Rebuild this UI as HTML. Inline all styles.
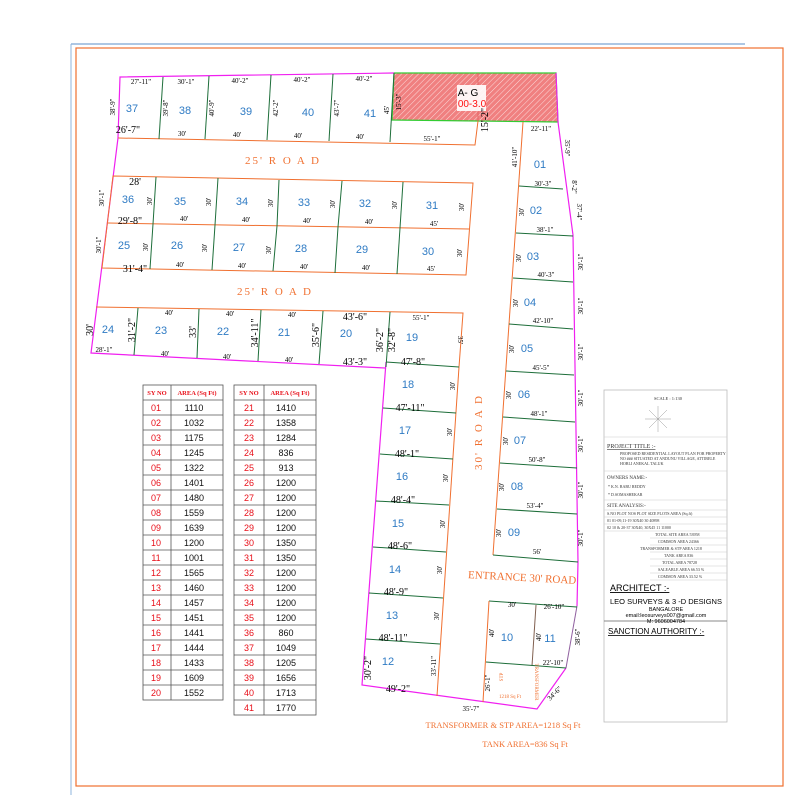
<!DOCTYPE html>
<html><head><meta charset="utf-8"><style>
html,body{margin:0;padding:0;background:#fff;}
svg{display:block;}
.pn{font-family:"Liberation Sans",sans-serif;font-size:11px;fill:#2f7bc4;text-anchor:middle;}
.d{font-family:"Liberation Serif",serif;font-size:7px;fill:#000;text-anchor:middle;}
.D{font-family:"Liberation Serif",serif;font-size:10px;fill:#000;text-anchor:middle;}
.rd{font-family:"Liberation Serif",serif;font-size:11px;fill:#f07030;text-anchor:middle;letter-spacing:2px;}
.tr{font-family:"Liberation Serif",serif;font-size:8.5px;fill:#f07030;text-anchor:middle;}
.tn{font-family:"Liberation Sans",sans-serif;font-size:9px;fill:#e8101a;text-anchor:middle;}
.ta{font-family:"Liberation Sans",sans-serif;font-size:9px;fill:#111;text-anchor:middle;}
.th{font-family:"Liberation Serif",serif;font-size:6.5px;fill:#e8101a;text-anchor:middle;font-weight:bold;}
.tb{font-family:"Liberation Serif",serif;font-size:4px;fill:#333;}
.g{stroke:#1e6e3a;stroke-width:1;fill:none;}
.o{stroke:#f07030;stroke-width:1;fill:none;}
.m{stroke:#f020f0;stroke-width:1.2;fill:none;}
</style></head><body>
<svg width="800" height="800" viewBox="0 0 800 800" xmlns="http://www.w3.org/2000/svg">
<defs>
<pattern id="h" width="4" height="4" patternUnits="userSpaceOnUse" patternTransform="rotate(45)">
<rect width="4" height="4" fill="#f08080"/><line x1="0" y1="0" x2="0" y2="4" stroke="#fbdada" stroke-width="1"/>
</pattern>
</defs>
<line x1="71" y1="44" x2="745" y2="44" stroke="#5b8fc8" stroke-width="1"/>
<line x1="71" y1="44" x2="71" y2="795" stroke="#8fb4dc" stroke-width="1"/>
<rect x="76" y="48" width="707" height="738" fill="none" stroke="#f07030" stroke-width="1.2"/>

<polygon points="394,73 556,73 558,122 392,120" fill="url(#h)" stroke="#33cc33" stroke-width="1.2"/>
<line x1="478" y1="73" x2="478" y2="121" stroke="#e06060" stroke-width="0.8"/>
<rect x="457" y="85" width="29" height="26" fill="#fff" opacity="0.9"/>
<text x="468" y="96" font-family="Liberation Sans" font-size="10" text-anchor="middle">A- G</text>
<text x="472" y="107" font-family="Liberation Sans" font-size="10" fill="#ff1010" text-anchor="middle">00-3.0</text>

<polyline class="m" points="394,73 120,77 118,138"/>
<polyline class="o" points="118,138 475,145 478,121"/>
<line class="g" x1="163" y1="77" x2="159" y2="139"/>
<line class="g" x1="209" y1="76" x2="205" y2="139"/>
<line class="g" x1="271" y1="75" x2="267" y2="140"/>
<line class="g" x1="333" y1="74" x2="329" y2="141"/>
<line class="g" x1="394" y1="73" x2="390" y2="142"/>

<polyline class="m" points="118,138 91,353 385,368 385,368"/>
<polyline class="m" points="386,362 362,685 537,709 566,668"/>
<polyline class="m" points="556,73 558,122 573,235 578,562 577,606"/>
<line x1="577" y1="606" x2="566" y2="668" stroke="#9060a0" stroke-width="1"/>

<polygon class="o" points="113,176 473,183 466,275 102,268"/>
<line class="o" x1="108" y1="223" x2="469" y2="229"/>
<polyline class="g" points="156,177 153,224 150,269"/>
<polyline class="g" points="218,178 215,225 212,270"/>
<polyline class="g" points="279,180 277,226 273,271"/>
<polyline class="g" points="342,181 338,227 335,273"/>
<polyline class="g" points="403,182 400,228 397,274"/>

<polyline class="o" points="96,307 463,313 459,367"/>
<line class="g" x1="138" y1="308" x2="134" y2="355"/>
<line class="g" x1="199" y1="309" x2="197" y2="358"/>
<line class="g" x1="261" y1="310" x2="258" y2="361"/>
<line class="g" x1="323" y1="311" x2="319" y2="364"/>
<line class="g" x1="390" y1="312" x2="386" y2="367"/>

<line class="o" x1="459" y1="367" x2="437" y2="696"/>
<line class="g" x1="386" y1="362" x2="459" y2="367"/>
<line class="g" x1="383" y1="408" x2="456" y2="413"/>
<line class="g" x1="380" y1="454" x2="453" y2="459"/>
<line class="g" x1="376" y1="501" x2="449" y2="505"/>
<line class="g" x1="373" y1="547" x2="446" y2="552"/>
<line class="g" x1="369" y1="593" x2="443" y2="598"/>
<line class="g" x1="366" y1="639" x2="440" y2="644"/>

<polyline class="o" points="523,122 493,555"/>
<line class="g" x1="493" y1="555" x2="578" y2="562"/>
<line class="g" x1="519" y1="186" x2="563" y2="189"/>
<line class="g" x1="516" y1="233" x2="573" y2="236"/>
<line class="g" x1="513" y1="278" x2="573" y2="282"/>
<line class="g" x1="509" y1="324" x2="573" y2="329"/>
<line class="g" x1="506" y1="371" x2="574" y2="375"/>
<line class="g" x1="503" y1="417" x2="575" y2="422"/>
<line class="g" x1="500" y1="463" x2="577" y2="468"/>
<line class="g" x1="497" y1="509" x2="577" y2="514"/>

<line class="g" x1="489" y1="601" x2="577" y2="607"/>
<line class="o" x1="489" y1="601" x2="483" y2="702"/>
<line x1="536" y1="605" x2="532" y2="666" stroke="#806050" stroke-width="1"/>
<line class="g" x1="486" y1="662" x2="566" y2="668"/>

<g class="pn">
<text x="132" y="112">37</text><text x="185" y="114">38</text><text x="246" y="115">39</text><text x="308" y="116">40</text><text x="370" y="117">41</text>
<text x="128" y="203">36</text><text x="180" y="205">35</text><text x="242" y="205">34</text><text x="304" y="206">33</text><text x="365" y="207">32</text><text x="432" y="209">31</text>
<text x="124" y="249">25</text><text x="177" y="249">26</text><text x="239" y="251">27</text><text x="301" y="252">28</text><text x="362" y="253">29</text><text x="428" y="255">30</text>
<text x="108" y="333">24</text><text x="161" y="334">23</text><text x="223" y="335">22</text><text x="284" y="336">21</text><text x="346" y="337">20</text><text x="412" y="341">19</text>
<text x="408" y="388">18</text><text x="405" y="434">17</text><text x="402" y="480">16</text><text x="398" y="527">15</text><text x="395" y="573">14</text><text x="392" y="619">13</text><text x="388" y="665">12</text>
<text x="540" y="168">01</text><text x="536" y="214">02</text><text x="533" y="260">03</text><text x="530" y="306">04</text><text x="527" y="352">05</text><text x="524" y="398">06</text><text x="520" y="444">07</text><text x="517" y="490">08</text><text x="514" y="536">09</text>
<text x="507" y="641">10</text><text x="550" y="642">11</text>
</g>

<g class="d">
<text x="141" y="84">27'-11"</text><text x="186" y="84">30'-1"</text><text x="240" y="83">40'-2"</text><text x="302" y="82">40'-2"</text><text x="364" y="81">40'-2"</text>
<text x="182" y="136">30'</text><text x="237" y="137">40'</text><text x="298" y="138">40'</text><text x="360" y="139">40'</text><text x="432" y="141">55'-1"</text>
<text x="541" y="131">22'-11"</text>
<text x="184" y="221">40'</text><text x="246" y="222">40'</text><text x="307" y="223">40'</text><text x="369" y="224">40'</text><text x="434" y="226">45'</text>
<text x="180" y="267">40'</text><text x="242" y="268">40'</text><text x="304" y="269">40'</text><text x="366" y="270">40'</text><text x="431" y="271">45'</text>
<text x="169" y="315">40'</text><text x="230" y="316">40'</text><text x="292" y="317">40'</text><text x="421" y="320">55'-1"</text>
<text x="104" y="352">28'-1"</text><text x="165" y="356">40'</text><text x="227" y="359">40'</text><text x="289" y="362">40'</text>
<text x="543" y="186">30'-3"</text><text x="545" y="232">38'-1"</text><text x="546" y="277">40'-3"</text><text x="543" y="323">42'-10"</text><text x="541" y="370">45'-5"</text><text x="539" y="416">48'-1"</text><text x="537" y="462">50'-8"</text><text x="535" y="508">53'-4"</text><text x="537" y="554">56'</text>
<text x="512" y="607">30'</text><text x="554" y="609">26'-10"</text><text x="553" y="665">22'-10"</text><text x="471" y="711">35'-7"</text>
</g>
<g class="D">
<text x="128" y="133">26'-7"</text><text x="135" y="185">28'</text><text x="130" y="224">29'-8"</text><text x="135" y="272">31'-4"</text>
<text x="355" y="320">43'-6"</text><text x="355" y="365">43'-3"</text><text x="413" y="365">47'-8"</text>
<text x="410" y="411">47'-11"</text><text x="407" y="457">48'-1"</text><text x="403" y="503">48'-4"</text><text x="400" y="549">48'-6"</text><text x="396" y="595">48'-9"</text><text x="393" y="641">48'-11"</text><text x="398" y="692">49'-2"</text>
</g>
<g class="d">
<text transform="translate(115,107) rotate(-90)">38'-9"</text>
<text transform="translate(168,108) rotate(-90)">39'-8"</text>
<text transform="translate(214,108) rotate(-90)">40'-9"</text>
<text transform="translate(278,108) rotate(-90)">42'-2"</text>
<text transform="translate(339,108) rotate(-90)">43'-7"</text>
<text transform="translate(389,110) rotate(-90)">45'</text>
<text transform="translate(401,102) rotate(-90)">15'-3"</text>
<text transform="translate(565,148) rotate(90)">35'-9"</text>
<text transform="translate(517,157) rotate(-90)">41'-10"</text>
<text transform="translate(572,187) rotate(90)">8'-2"</text>
<text transform="translate(577,212) rotate(90)">37'-4"</text>
<text transform="translate(104,198) rotate(-90)">30'-1"</text>
<text transform="translate(101,245) rotate(-90)">30'-1"</text>
<text transform="translate(152,201) rotate(-90)">30'</text><text transform="translate(211,202) rotate(-90)">30'</text><text transform="translate(273,203) rotate(-90)">30'</text><text transform="translate(335,204) rotate(-90)">30'</text><text transform="translate(397,205) rotate(-90)">30'</text><text transform="translate(464,207) rotate(-90)">30'</text>
<text transform="translate(148,247) rotate(-90)">30'</text><text transform="translate(207,248) rotate(-90)">30'</text><text transform="translate(271,250) rotate(-90)">30'</text><text transform="translate(462,253) rotate(-90)">30'</text>
<text transform="translate(458,340) rotate(90)">35'</text>
<text transform="translate(455,386) rotate(-90)">30'</text><text transform="translate(452,432) rotate(-90)">30'</text><text transform="translate(448,478) rotate(-90)">30'</text><text transform="translate(445,524) rotate(-90)">30'</text><text transform="translate(442,570) rotate(-90)">30'</text><text transform="translate(439,616) rotate(-90)">30'</text><text transform="translate(436,666) rotate(-90)">33'-11"</text>
<text transform="translate(524,212) rotate(-90)">30'</text><text transform="translate(521,258) rotate(-90)">30'</text><text transform="translate(518,303) rotate(-90)">30'</text><text transform="translate(514,349) rotate(-90)">30'</text><text transform="translate(511,395) rotate(-90)">30'</text><text transform="translate(508,441) rotate(-90)">30'</text><text transform="translate(504,487) rotate(-90)">30'</text><text transform="translate(501,533) rotate(-90)">30'</text>
<text transform="translate(583,262) rotate(-90)">30'-1"</text><text transform="translate(583,306) rotate(-90)">30'-1"</text><text transform="translate(583,352) rotate(-90)">30'-1"</text><text transform="translate(583,398) rotate(-90)">30'-1"</text><text transform="translate(583,444) rotate(-90)">30'-1"</text><text transform="translate(583,490) rotate(-90)">30'-1"</text><text transform="translate(583,538) rotate(-90)">30'-1"</text>
<text transform="translate(494,633) rotate(-90)">40'</text><text transform="translate(541,637) rotate(-90)">40'</text><text transform="translate(580,637) rotate(-90)">38'-6"</text>
<text transform="translate(490,683) rotate(-90)">26'-1"</text><text transform="translate(556,695) rotate(-45)">34'-6"</text>
</g>
<g class="D">
<text transform="translate(93,330) rotate(-90)">30'</text>
<text transform="translate(135,330) rotate(-90)">31'-2"</text>
<text transform="translate(196,332) rotate(-90)">33'</text>
<text transform="translate(258,333) rotate(-90)">34'-11"</text>
<text transform="translate(319,335) rotate(-90)">35'-6"</text>
<text transform="translate(383,340) rotate(-90)">36'-2"</text>
<text transform="translate(395,340) rotate(-90)">32'-8"</text>
<text transform="translate(488,120) rotate(-90)">15'-2"</text>
<text transform="translate(371,668) rotate(-90)">30'-2"</text>
</g>

<text class="rd" x="283" y="164">25' R O A D</text>
<text class="rd" x="275" y="295">25' R O A D</text>
<text class="rd" transform="translate(482,432) rotate(-90)">30' R O A D</text>
<text class="rd" style="letter-spacing:0" transform="translate(522,581) rotate(3)">ENTRANCE 30' ROAD</text>
<text class="tr" transform="translate(503,677) rotate(-90)" style="font-size:5px">STP</text>
<text class="tr" x="510" y="698" style="font-size:5px">1218 Sq Ft</text>
<text class="tr" transform="translate(535,682) rotate(90)" style="font-size:5px">TRANSFORMER</text>
<text class="tr" x="503" y="728">TRANSFORMER &amp; STP AREA=1218 Sq Ft</text>
<text class="tr" x="525" y="747">TANK AREA=836 Sq Ft</text>

<g stroke="#555" stroke-width="0.8" fill="none">
<rect x="143" y="385" width="80" height="315"/>
<line x1="171" y1="385" x2="171" y2="700"/>
<rect x="234" y="385" width="82" height="330"/>
<line x1="264" y1="385" x2="264" y2="715"/>
<path d="M143 400H223M143 415H223M143 430H223M143 445H223M143 460H223M143 475H223M143 490H223M143 505H223M143 520H223M143 535H223M143 550H223M143 565H223M143 580H223M143 595H223M143 610H223M143 625H223M143 640H223M143 655H223M143 670H223M143 685H223"/>
<path d="M234 400H316M234 415H316M234 430H316M234 445H316M234 460H316M234 475H316M234 490H316M234 505H316M234 520H316M234 535H316M234 550H316M234 565H316M234 580H316M234 595H316M234 610H316M234 625H316M234 640H316M234 655H316M234 670H316M234 685H316M234 700H316"/>
</g>
<text class="th" x="157" y="395">SY NO</text><text class="th" x="197" y="395">AREA (Sq Ft)</text>
<text class="th" x="249" y="395">SY NO</text><text class="th" x="290" y="395">AREA (Sq Ft)</text>
<g class="tn">
<text x="156" y="411">01</text><text x="156" y="426">02</text><text x="156" y="441">03</text><text x="156" y="456">04</text><text x="156" y="471">05</text><text x="156" y="486">06</text><text x="156" y="501">07</text><text x="156" y="516">08</text><text x="156" y="531">09</text><text x="156" y="546">10</text><text x="156" y="561">11</text><text x="156" y="576">12</text><text x="156" y="591">13</text><text x="156" y="606">14</text><text x="156" y="621">15</text><text x="156" y="636">16</text><text x="156" y="651">17</text><text x="156" y="666">18</text><text x="156" y="681">19</text><text x="156" y="696">20</text>
<text x="249" y="411">21</text><text x="249" y="426">22</text><text x="249" y="441">23</text><text x="249" y="456">24</text><text x="249" y="471">25</text><text x="249" y="486">26</text><text x="249" y="501">27</text><text x="249" y="516">28</text><text x="249" y="531">29</text><text x="249" y="546">30</text><text x="249" y="561">31</text><text x="249" y="576">32</text><text x="249" y="591">33</text><text x="249" y="606">34</text><text x="249" y="621">35</text><text x="249" y="636">36</text><text x="249" y="651">37</text><text x="249" y="666">38</text><text x="249" y="681">39</text><text x="249" y="696">40</text><text x="249" y="711">41</text>
</g>
<g class="ta">
<text x="194" y="411">1110</text><text x="194" y="426">1032</text><text x="194" y="441">1175</text><text x="194" y="456">1245</text><text x="194" y="471">1322</text><text x="194" y="486">1401</text><text x="194" y="501">1480</text><text x="194" y="516">1559</text><text x="194" y="531">1639</text><text x="194" y="546">1200</text><text x="194" y="561">1001</text><text x="194" y="576">1565</text><text x="194" y="591">1460</text><text x="194" y="606">1457</text><text x="194" y="621">1451</text><text x="194" y="636">1441</text><text x="194" y="651">1444</text><text x="194" y="666">1433</text><text x="194" y="681">1609</text><text x="194" y="696">1552</text>
<text x="286" y="411">1410</text><text x="286" y="426">1358</text><text x="286" y="441">1284</text><text x="286" y="456">836</text><text x="286" y="471">913</text><text x="286" y="486">1200</text><text x="286" y="501">1200</text><text x="286" y="516">1200</text><text x="286" y="531">1200</text><text x="286" y="546">1350</text><text x="286" y="561">1350</text><text x="286" y="576">1200</text><text x="286" y="591">1200</text><text x="286" y="606">1200</text><text x="286" y="621">1200</text><text x="286" y="636">860</text><text x="286" y="651">1049</text><text x="286" y="666">1205</text><text x="286" y="681">1656</text><text x="286" y="696">1713</text><text x="286" y="711">1770</text>
</g>

<rect x="604" y="390" width="123" height="332" fill="#fff" stroke="#bbb" stroke-width="0.8"/>
<g stroke="#ccc" stroke-width="0.6">
<line x1="604" y1="437" x2="727" y2="437"/><line x1="604" y1="471" x2="727" y2="471"/><line x1="604" y1="500" x2="727" y2="500"/>
<line x1="604" y1="510" x2="727" y2="510"/><line x1="604" y1="517" x2="727" y2="517"/><line x1="604" y1="524" x2="727" y2="524"/>
<line x1="604" y1="531" x2="727" y2="531"/><line x1="650" y1="538" x2="727" y2="538"/><line x1="650" y1="545" x2="727" y2="545"/><line x1="650" y1="552" x2="727" y2="552"/><line x1="650" y1="559" x2="727" y2="559"/><line x1="650" y1="566" x2="727" y2="566"/><line x1="650" y1="573" x2="727" y2="573"/><line x1="650" y1="580" x2="727" y2="580"/>
</g>
<line x1="604" y1="621" x2="727" y2="621" stroke="#888" stroke-width="1"/>
<text class="tb" x="654" y="400" style="font-size:4.5px">SCALE : 1:130</text>
<g stroke="#999" stroke-width="0.5"><line x1="658" y1="406" x2="658" y2="432"/><line x1="645" y1="419" x2="671" y2="419"/><line x1="649" y1="410" x2="667" y2="428"/><line x1="667" y1="410" x2="649" y2="428"/></g>
<text class="tb" x="607" y="448" style="font-size:6px;text-decoration:underline">PROJECT TITLE :-</text>
<text class="tb" x="620" y="455">PROPOSED RESIDENTIAL LAYOUT PLAN FOR PROPERTY</text>
<text class="tb" x="620" y="460">NO ### SITUATED AT ANDUNU VILLAGE, ATTIBELE</text>
<text class="tb" x="620" y="465">HOBLI ANEKAL TALUK</text>
<text class="tb" x="607" y="479" style="font-size:5px">OWNERS NAME:-</text>
<text class="tb" x="608" y="488">* K.N. BABU REDDY</text>
<text class="tb" x="608" y="496">* D.SOMASHEKAR</text>
<text class="tb" x="607" y="507" style="font-size:5px">SITE ANALYSIS:-</text>
<text class="tb" x="607" y="515">S.NO   PLOT NOS   PLOT SIZE   PLOTS   AREA (Sq.ft)</text>
<text class="tb" x="607" y="522">01    01-09,11-19     30X40       30      40898</text>
<text class="tb" x="607" y="529">02    10 &amp; 20-37    30X40, 30X45   11      11000</text>
<text class="tb" x="655" y="536">TOTAL SITE AREA     53958</text>
<text class="tb" x="658" y="543">COMMON AREA     24366</text>
<text class="tb" x="640" y="550">TRANSFORMER &amp; STP AREA    1218</text>
<text class="tb" x="664" y="557">TANK AREA     836</text>
<text class="tb" x="662" y="564">TOTAL AREA     78728</text>
<text class="tb" x="658" y="571">SALEABLE AREA    66.53 %</text>
<text class="tb" x="658" y="578">COMMON AREA    33.52 %</text>
<text x="610" y="591" font-family="Liberation Sans" font-size="9" style="text-decoration:underline">ARCHITECT :-</text>
<text x="666" y="604" font-family="Liberation Sans" font-size="7.5" text-anchor="middle">LEO SURVEYS &amp; 3 -D DESIGNS</text>
<text x="666" y="611" font-family="Liberation Sans" font-size="5.5" text-anchor="middle">BANGALORE</text>
<text x="666" y="617" font-family="Liberation Sans" font-size="5.5" text-anchor="middle">email:leosurveys007@gmail.com</text>
<text x="666" y="623" font-family="Liberation Sans" font-size="5.5" text-anchor="middle">M: 9606004784</text>
<text x="608" y="634" font-family="Liberation Sans" font-size="8" style="text-decoration:underline">SANCTION AUTHORITY :-</text>
</svg>
</body></html>
